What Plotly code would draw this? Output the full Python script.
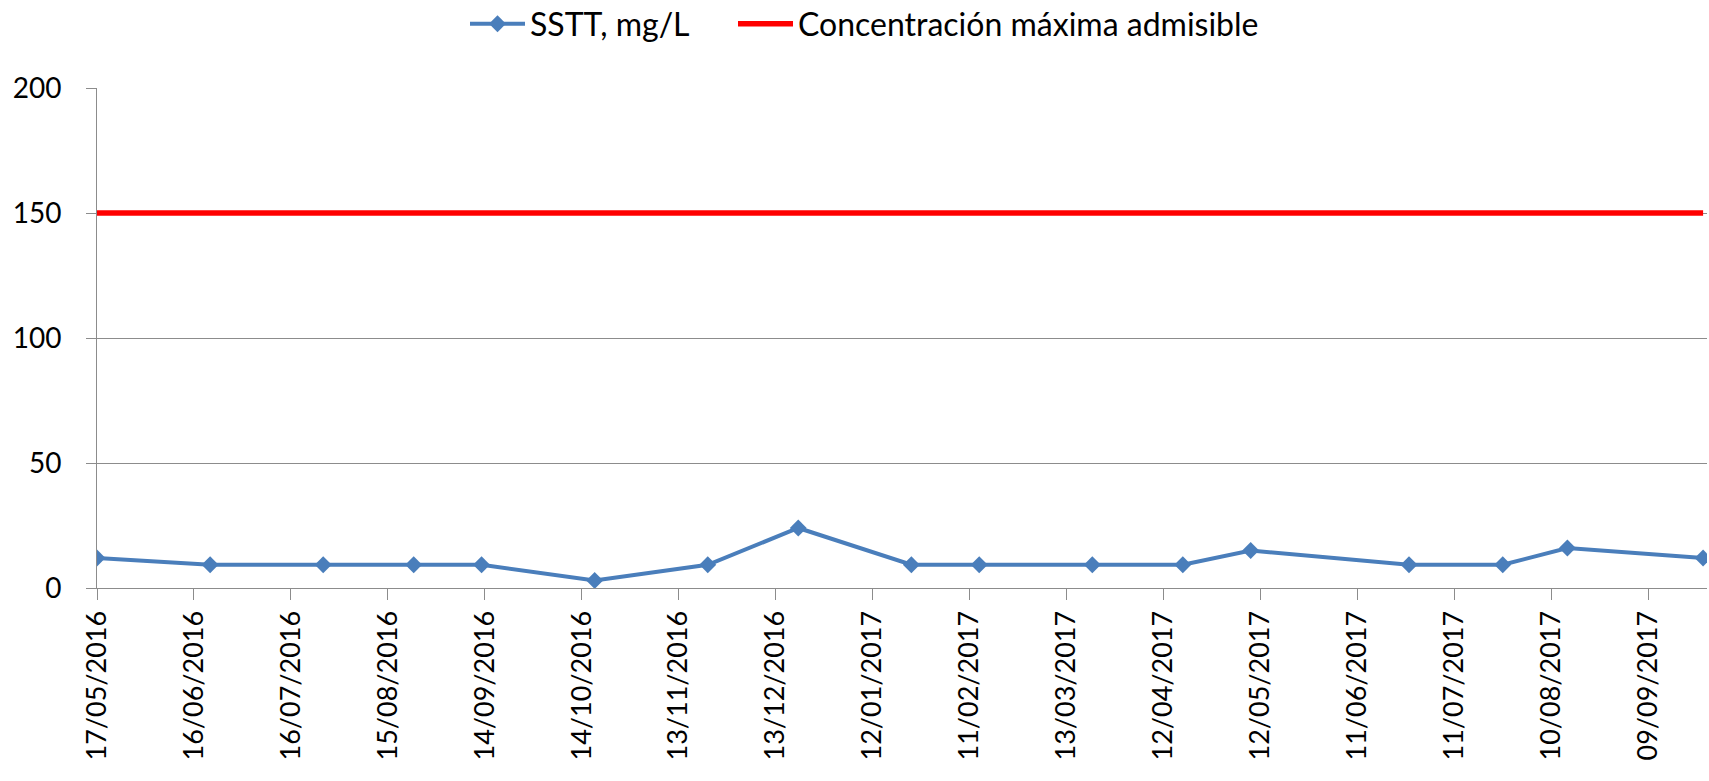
import plotly.graph_objects as go

dates = ["2016-05-17", "2016-06-21", "2016-07-26", "2016-08-23", "2016-09-13",
         "2016-10-18", "2016-11-22", "2016-12-20", "2017-01-24", "2017-02-14",
         "2017-03-21", "2017-04-18", "2017-05-09", "2017-06-27", "2017-07-26",
         "2017-08-15", "2017-09-26"]
sstt = [12, 9.3, 9.3, 9.3, 9.3, 3, 9.3, 24, 9.3, 9.3, 9.3, 9.3, 15, 9.3, 9.3, 16, 12]
limit = [150] * len(dates)

series_names = ["SSTT, mg/L", "Concentración máxima admisible"]
y_ticks = [0, 50, 100, 150, 200]

FONT = "Lato, 'Open Sans', sans-serif"
GRID = "#8c8c8c"

W, H = 1709, 781
L, R, T, B = 97, 2, 88, 193
PW = W - L - R

fig = go.Figure()
fig.add_trace(go.Scatter(
    x=dates, y=sstt, name=series_names[0], mode="lines+markers",
    line=dict(color="#4A7EBB", width=4),
    marker=dict(symbol="diamond", size=13, color="#4A7EBB"),
    legend="legend",
))
fig.add_trace(go.Scatter(
    x=dates, y=limit, name=series_names[1], mode="lines",
    line=dict(color="#FF0000", width=5.5),
    legend="legend2",
))

leg_common = dict(orientation="h", xanchor="left", xref="paper",
                  y=1 - 24 / H, yref="container", yanchor="middle",
                  font=dict(size=32, family=FONT), itemwidth=55,
                  bgcolor="rgba(0,0,0,0)")

fig.update_layout(
    width=W, height=H,
    margin=dict(l=L, r=R, t=T, b=B, autoexpand=False),
    plot_bgcolor="white", paper_bgcolor="white",
    font=dict(family=FONT, color="#000000"),
    showlegend=True,
    legend=dict(x=(465 - L) / PW, **leg_common),
    legend2=dict(x=(733 - L) / PW, **leg_common),
    xaxis=dict(
        type="date",
        range=["2016-05-17", "2017-09-27 05:00"],
        tick0="2016-05-17", dtick=30 * 86400000,
        tickformat="%d/%m/%Y", tickangle=-90,
        tickfont=dict(size=27, family=FONT),
        ticks="outside", ticklen=11, tickcolor=GRID, tickwidth=1,
        showgrid=False, showline=True, linecolor=GRID, linewidth=1,
        ticklabelstandoff=0, zeroline=False,
    ),
    yaxis=dict(
        range=[0, 200], tickvals=y_ticks,
        tickfont=dict(size=28, family=FONT),
        ticks="outside", ticklen=10, tickcolor=GRID, tickwidth=1,
        showgrid=True, gridcolor=GRID, gridwidth=1,
        showline=True, linecolor=GRID, linewidth=1,
        zeroline=False, ticklabelstandoff=19,
    ),
)

fig.write_html("out.html",
               config={"displayModeBar": False},
               post_script="document.body.style.margin='0';document.body.style.overflow='hidden';")
